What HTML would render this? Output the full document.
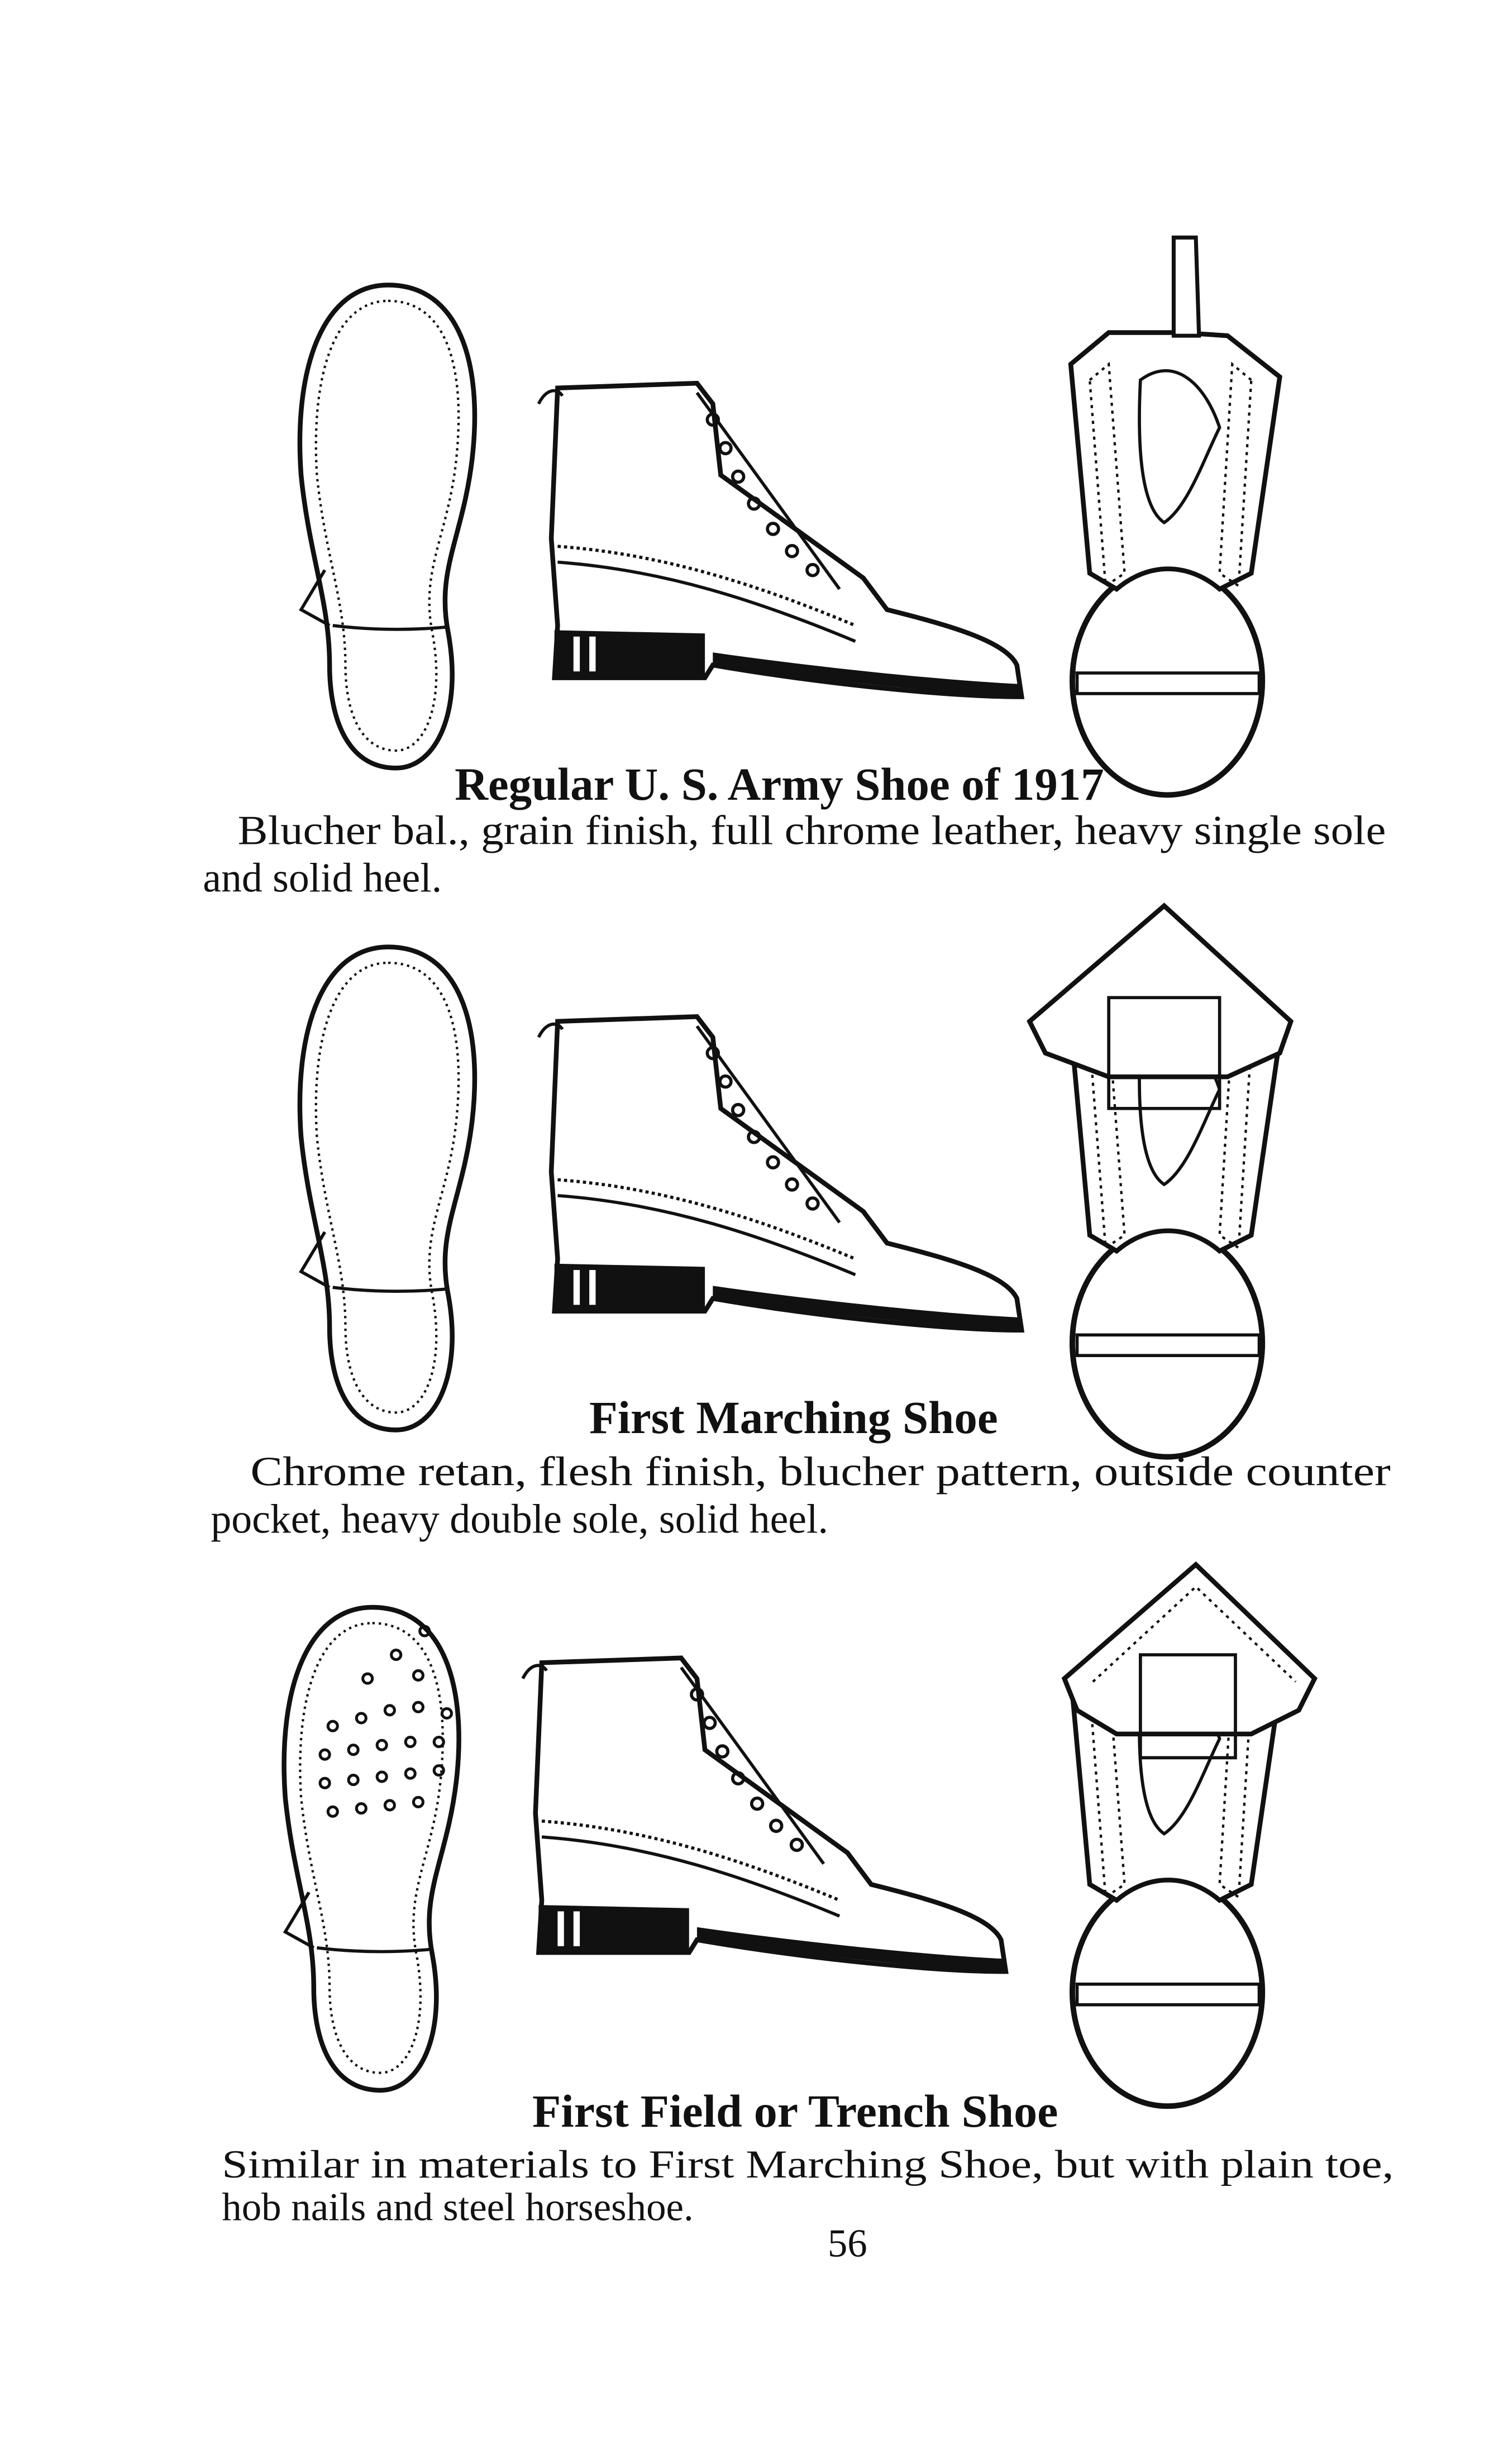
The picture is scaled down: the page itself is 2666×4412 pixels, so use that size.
<!DOCTYPE html>
<html><head><meta charset="utf-8"><style>
html,body{margin:0;padding:0;background:#fff;}
svg{display:block;}
text{font-family:"Liberation Serif",serif;fill:#111;}
.b{font-weight:bold;}
</style></head><body>
<svg width="2666" height="4412" viewBox="0 0 940 1556" xmlns="http://www.w3.org/2000/svg">
<rect width="940" height="1556" fill="#fff"/>
<defs>
<g id="sole">
  <path d="M245,180 C290,180 305,230 298,290 C292,340 275,360 283,400 C292,450 275,485 250,485 C220,485 208,455 208,420 C208,380 195,350 190,300 C185,230 205,180 245,180 Z" fill="#fff" stroke="#111" stroke-width="3"/>
  <path d="M245,190 C282,190 294,232 288,290 C283,338 265,360 273,400 C281,445 268,474 250,474 C228,474 218,450 218,420 C218,380 205,350 200,300 C196,235 212,190 245,190 Z" fill="none" stroke="#111" stroke-width="1.5" stroke-dasharray="1.5,2.5"/>
  <path d="M210,395 C235,398 260,398 282,396" fill="none" stroke="#111" stroke-width="2"/>
  <path d="M205,360 L190,385 L208,395" fill="none" stroke="#111" stroke-width="2"/>
</g>
<g id="boot">
  <path d="M352,245 L440,242 L450,255 L455,300 L545,365 L560,385 C600,395 635,405 642,420 L645,440 C600,440 520,432 450,420 L445,428 L350,428 L352,395 L348,340 Z" fill="#fff" stroke="#111" stroke-width="3"/>
  <path d="M350,398 L445,400 L445,428 L350,428 Z" fill="#111"/>
  <rect x="362" y="402" width="4" height="22" fill="#fff"/><rect x="372" y="402" width="4" height="22" fill="#fff"/>
  <path d="M450,420 C520,430 600,438 645,440 L645,432 C600,430 520,422 450,412 Z" fill="#111"/>
  <path d="M352,345 C420,350 480,370 540,395" fill="none" stroke="#111" stroke-width="2" stroke-dasharray="2,2"/>
  <path d="M352,355 C420,360 480,380 540,405" fill="none" stroke="#111" stroke-width="2"/>
  <path d="M440,248 L530,372" fill="none" stroke="#111" stroke-width="2"/>
  <circle cx="450" cy="265" r="3.5" fill="none" stroke="#111" stroke-width="2"/>
  <circle cx="458" cy="283" r="3.5" fill="none" stroke="#111" stroke-width="2"/>
  <circle cx="466" cy="301" r="3.5" fill="none" stroke="#111" stroke-width="2"/>
  <circle cx="476" cy="318" r="3.5" fill="none" stroke="#111" stroke-width="2"/>
  <circle cx="488" cy="334" r="3.5" fill="none" stroke="#111" stroke-width="2"/>
  <circle cx="500" cy="348" r="3.5" fill="none" stroke="#111" stroke-width="2"/>
  <circle cx="513" cy="360" r="3.5" fill="none" stroke="#111" stroke-width="2"/>
  <path d="M340,255 C345,245 352,245 355,250" fill="none" stroke="#111" stroke-width="2"/>
</g>
<g id="top">
  <ellipse cx="737" cy="430" rx="60" ry="72" fill="#fff" stroke="#111" stroke-width="3.5"/>
  <path d="M680,425 L795,425 L795,438 L680,438 Z" fill="#fff" stroke="#111" stroke-width="2"/>
  <path d="M676,230 L700,210 L745,210 L775,212 L808,238 L790,362 L770,372 C750,355 725,355 705,372 L688,362 Z" fill="#fff" stroke="#111" stroke-width="3"/>
  <path d="M688,240 L700,230 L710,362 L698,370 Z" fill="none" stroke="#111" stroke-width="1.5" stroke-dasharray="2,3"/>
  <path d="M790,240 L778,230 L770,362 L782,370 Z" fill="none" stroke="#111" stroke-width="1.5" stroke-dasharray="2,3"/>
  <path d="M720,240 C718,280 720,320 735,330 C750,320 760,290 770,270 C760,240 740,225 720,240 Z" fill="none" stroke="#111" stroke-width="2"/>
</g>
</defs>

<!-- Row 1 -->
<use href="#sole"/>
<use href="#boot"/>
<use href="#top"/>
<path d="M741,150 L755,150 L757,212 L741,212 Z" fill="#fff" stroke="#111" stroke-width="2.5"/>
<text x="492" y="505" font-size="29" class="b" text-anchor="middle" textLength="410" lengthAdjust="spacingAndGlyphs">Regular U. S. Army Shoe of 1917</text>
<text x="150" y="533" font-size="26" textLength="725" lengthAdjust="spacingAndGlyphs">Blucher bal., grain finish, full chrome leather, heavy single sole</text>
<text x="128" y="563" font-size="26">and solid heel.</text>

<!-- Row 2 -->
<g transform="translate(0,418)">
  <use href="#sole"/>
  <use href="#boot" transform="translate(0,-18)"/>
  <use href="#top"/>
</g>
<path d="M650,645 L735,572 L815,645 L808,665 L775,680 L700,680 L660,665 Z" fill="#fff" stroke="#111" stroke-width="3"/>
<path d="M700,630 L770,630 L770,700 L700,700 Z" fill="none" stroke="#111" stroke-width="2"/>
<text x="501" y="905" font-size="29" class="b" text-anchor="middle" textLength="258" lengthAdjust="spacingAndGlyphs">First Marching Shoe</text>
<text x="158" y="938" font-size="26" textLength="720" lengthAdjust="spacingAndGlyphs">Chrome retan, flesh finish, blucher pattern, outside counter</text>
<text x="133" y="968" font-size="26">pocket, heavy double sole, solid heel.</text>

<!-- Row 3 -->
<g transform="translate(-10,835)">
  <use href="#sole"/>
  <use href="#boot" transform="translate(0,-30)"/>
</g>
<g transform="translate(0,828)"><use href="#top"/></g>
<path d="M672,1060 L755,988 L830,1060 L820,1080 L790,1095 L705,1095 L680,1080 Z" fill="#fff" stroke="#111" stroke-width="3"/>
<path d="M690,1062 L755,1002 L818,1062" fill="none" stroke="#111" stroke-width="1.5" stroke-dasharray="2,3"/>
<path d="M720,1045 L780,1045 L780,1110 L720,1110 Z" fill="none" stroke="#111" stroke-width="2"/>
<g fill="none" stroke="#111" stroke-width="1.8">
  <circle cx="210" cy="1090" r="3"/><circle cx="228" cy="1085" r="3"/><circle cx="246" cy="1080" r="3"/><circle cx="264" cy="1078" r="3"/><circle cx="282" cy="1082" r="3"/>
  <circle cx="205" cy="1108" r="3"/><circle cx="223" cy="1105" r="3"/><circle cx="241" cy="1102" r="3"/><circle cx="259" cy="1100" r="3"/><circle cx="277" cy="1100" r="3"/>
  <circle cx="205" cy="1126" r="3"/><circle cx="223" cy="1124" r="3"/><circle cx="241" cy="1122" r="3"/><circle cx="259" cy="1120" r="3"/><circle cx="277" cy="1118" r="3"/>
  <circle cx="210" cy="1144" r="3"/><circle cx="228" cy="1142" r="3"/><circle cx="246" cy="1140" r="3"/><circle cx="264" cy="1138" r="3"/>
  <circle cx="232" cy="1060" r="3"/><circle cx="250" cy="1045" r="3"/><circle cx="268" cy="1030" r="3"/><circle cx="264" cy="1058" r="3"/>
</g>
<text x="502" y="1343" font-size="29" class="b" text-anchor="middle" textLength="332" lengthAdjust="spacingAndGlyphs">First Field or Trench Shoe</text>
<text x="140" y="1375" font-size="25" textLength="740" lengthAdjust="spacingAndGlyphs">Similar in materials to First Marching Shoe, but with plain toe,</text>
<text x="140" y="1402" font-size="25">hob nails and steel horseshoe.</text>
<text x="535" y="1425" font-size="25" text-anchor="middle">56</text>
</svg>
</body></html>
